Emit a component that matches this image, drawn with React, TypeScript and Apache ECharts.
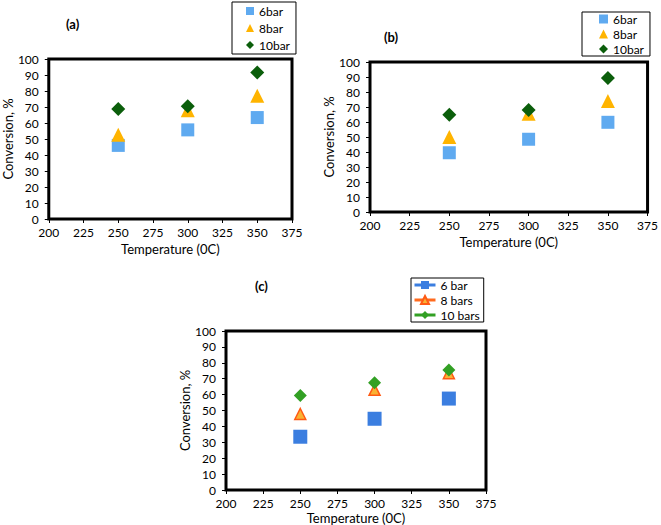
import React, { useEffect, useRef } from "react";
import * as echarts from "echarts";

const temps = [250, 300, 350];

// Panel (a)
const a6 = [46, 55.7, 63.4];
const a8 = [52.6, 68, 77];
const a10 = [68.8, 70.5, 91.6];

// Panel (b)
const b6 = [39.5, 48.5, 59.8];
const b8 = [50, 65.5, 74];
const b10 = [64.8, 68, 89.4];

// Panel (c)
const c6 = [33.5, 44.8, 57.5];
const c8 = [47.8, 63, 73.5];
const c10 = [59.5, 67.5, 75.5];

const abNames = ["6bar", "8bar", "10bar"];
const cNames = ["6 bar", "8 bars", "10 bars"];
const panelLabels = ["(a)", "(b)", "(c)"];
const xTitle = "Temperature (0C)";
const yTitle = "Conversion, %";

const FONT = "Lato, 'Open Sans', sans-serif";

const pts = (vals: number[]) => temps.map((t, i) => [t, vals[i]]);

export default function App() {
  const ref = useRef<HTMLDivElement>(null);
  useEffect(() => {
    if (!ref.current) return;
    const chart = echarts.init(ref.current, null, { renderer: "svg" });

    const grids = [
      { left: 45, top: 59, width: 247, height: 160 },
      { left: 370, top: 62, width: 278, height: 150 },
      { left: 226, top: 331, width: 260, height: 159 },
    ];
    const yGaps = [30, 35, 33];
    const xGaps = [23, 23, 21];

    const xAxis = grids.map((_, i) => ({
      type: "value",
      gridIndex: i,
      min: 200,
      max: 375,
      interval: 25,
      name: xTitle,
      nameLocation: "middle",
      nameGap: xGaps[i],
      nameTextStyle: { fontFamily: FONT, fontSize: 13, color: "#000", lineHeight: 13 },
      axisLine: { show: true, lineStyle: { color: "#000", width: 2 } },
      axisTick: { show: true, length: 4, lineStyle: { color: "#000", width: 1 } },
      axisLabel: { fontFamily: FONT, fontSize: 12, color: "#000", margin: 7, lineHeight: 12 },
      splitLine: { show: false },
    }));
    const yAxis = grids.map((_, i) => ({
      type: "value",
      gridIndex: i,
      min: 0,
      max: 100,
      interval: 10,
      name: yTitle,
      nameLocation: "middle",
      nameRotate: 90,
      nameGap: yGaps[i],
      nameTextStyle: { fontFamily: FONT, fontSize: 13, color: "#000" },
      axisLine: { show: true, lineStyle: { color: "#000", width: 2 } },
      axisTick: { show: true, length: 4, lineStyle: { color: "#000", width: 1 } },
      axisLabel: { fontFamily: FONT, fontSize: 12, color: "#000", margin: 10 },
      splitLine: { show: false },
    }));

    const abColors = ["#5faaf0", "#ffb400", "#0b5e0b"];
    const abSymbols = ["rect", "triangle", "diamond"];
    const abSizes = [13, 14, 14];

    const mkAB = (gi: number, data: number[][]) =>
      data.map((d, k) => ({
        type: "scatter",
        name: abNames[k],
        xAxisIndex: gi,
        yAxisIndex: gi,
        symbol: abSymbols[k],
        symbolSize: abSizes[k],
        itemStyle: { color: abColors[k], opacity: 1 },
        data: pts(d as any),
      }));

    const cColors = ["#3b7ee0", "#f9b233", "#32a024"];
    const cLine = ["#3b7ee0", "#ff6a1e", "#32a024"];
    const cSymbols = ["rect", "triangle", "diamond"];
    const cSizes = [14, 11, 13];
    const cData = [c6, c8, c10];
    const cSeries = cData.map((d, k) => ({
      type: "line",
      name: cNames[k],
      xAxisIndex: 2,
      yAxisIndex: 2,
      symbol: cSymbols[k],
      symbolSize: cSizes[k],
      showSymbol: true,
      lineStyle: { opacity: 0, width: 0, color: cLine[k] },
      itemStyle: {
        color: cColors[k],
        opacity: 1,
        borderColor: k === 1 ? "#ff5a14" : cColors[k],
        borderWidth: k === 1 ? 1.5 : 0,
      },
      data: pts(d),
    }));

    const legendBase = {
      orient: "vertical",
      show: true,
      borderColor: "#000",
      borderWidth: 1,
      backgroundColor: "#fff",
      textStyle: { fontFamily: FONT, fontSize: 12, color: "#000", lineHeight: 12 },
    };

    chart.setOption({
      animation: false,
      backgroundColor: "#fff",
      title: [
        { text: panelLabels[0], left: 61, top: 12, textStyle: { fontFamily: FONT, fontSize: 13, fontWeight: "bold", color: "#000" } },
        { text: panelLabels[1], left: 379, top: 25, textStyle: { fontFamily: FONT, fontSize: 13, fontWeight: "bold", color: "#000" } },
        { text: panelLabels[2], left: 250, top: 274, textStyle: { fontFamily: FONT, fontSize: 13, fontWeight: "bold", color: "#000" } },
      ],
      grid: grids.map((g) => ({ ...g, show: true, borderColor: "#000", borderWidth: 3, backgroundColor: "transparent" })),
      xAxis,
      yAxis,
      legend: [
        {
          ...legendBase,
          left: 232,
          top: 2,
          itemWidth: 8,
          itemHeight: 8,
          itemGap: 5,
          padding: [3, 6, 3, 14],
          data: abNames.map((n, k) => ({ name: n, icon: abSymbols[k] })),
        },
        {
          ...legendBase,
          left: 582,
          top: 12,
          itemWidth: 9,
          itemHeight: 9,
          itemGap: 3,
          padding: [1, 6, 1, 17],
          data: abNames.map((n, k) => ({ name: n, icon: abSymbols[k] })),
        },
        {
          ...legendBase,
          left: 411,
          top: 278,
          itemWidth: 21,
          itemHeight: 10,
          itemGap: 3,
          padding: [1, 4, 1, 2],
          data: cNames.map((n, k) => ({
            name: n,
            lineStyle: { color: cLine[k], width: 3, opacity: 1, type: "solid" },
          })),
        },
      ],
      series: [...mkAB(0, [a6, a8, a10]), ...mkAB(1, [b6, b8, b10]), ...cSeries],
    } as any);

    return () => chart.dispose();
  }, []);

  return (
    <div
      ref={ref}
      style={{ position: "fixed", left: 0, top: 0, width: 661, height: 525, background: "#fff" }}
    />
  );
}
